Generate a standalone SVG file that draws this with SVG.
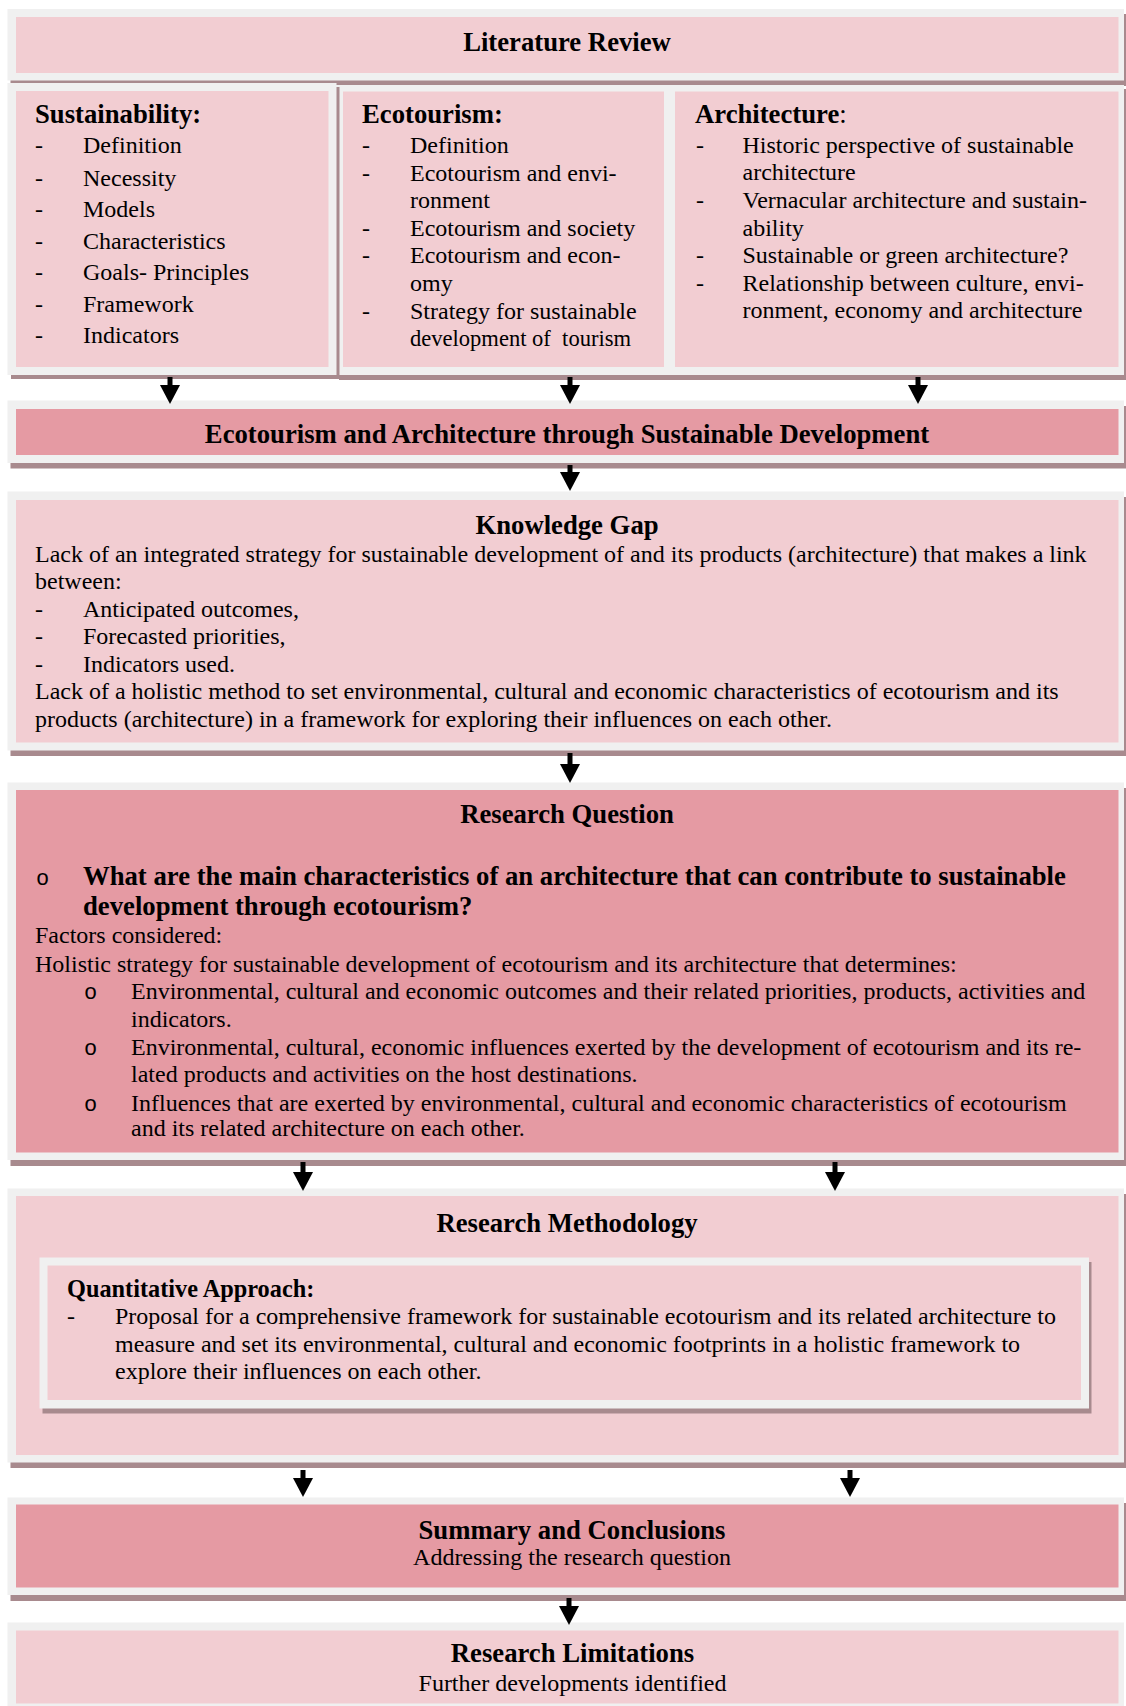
<svg xmlns="http://www.w3.org/2000/svg" width="1126" height="1706" viewBox="0 0 1126 1706">
  <style>
    text { font-family: "Liberation Serif", "Times New Roman", serif; fill: #000; }
    .h { font-size: 26.7px; font-weight: bold; }
    .hc { font-size: 26.7px; font-weight: bold; text-anchor: middle; }
    .b { font-size: 24px; }
    .bc { font-size: 24px; text-anchor: middle; }
    .q { font-size: 26.7px; font-weight: bold; }
    .bul { font-family: "Liberation Mono", "Courier New", monospace; font-size: 22px; }
    .frame { fill: #f0f0f0; }
    .shadow { fill: #a88a8e; }
    .light { fill: #f2cdd2; }
    .dark { fill: #e59aa3; }
    .conn line { stroke: #000; stroke-width: 5; }
  </style>
  <defs>
    <marker id="head" markerUnits="userSpaceOnUse" markerWidth="19" markerHeight="20" viewBox="0 0 19 20" refX="0" refY="10" orient="auto">
      <path d="M0,0 L19,10 L0,20 Z" fill="#000"/>
    </marker>
  </defs>

  <rect width="1126" height="1706" fill="#fff"/>

  <!-- Literature review header -->
  <g id="literature-review">
    <rect class="shadow" x="10.5" y="14" width="1118" height="72"/>
    <rect class="frame" x="7.5" y="9" width="1116.5" height="71.5"/>
    <rect class="light" x="16" y="17" width="1102.5" height="56"/>
    <text class="hc" x="567" y="51">Literature Review</text>
  </g>

  <!-- Ecotourism column -->
  <g id="ecotourism">
    <rect class="shadow" x="339" y="89" width="335" height="291"/>
    <rect class="frame" x="336" y="85" width="335" height="290"/>
    <rect class="light" x="343" y="91.5" width="321" height="275.5"/>
    <text class="h" x="362" y="123">Ecotourism:</text>
    <text class="b" x="362" y="153">-</text><text class="b" x="410" y="153">Definition</text>
    <text class="b" x="362" y="181">-</text><text class="b" x="410" y="181">Ecotourism and envi-</text>
    <text class="b" x="410" y="208">ronment</text>
    <text class="b" x="362" y="236">-</text><text class="b" x="410" y="236">Ecotourism and society</text>
    <text class="b" x="362" y="263">-</text><text class="b" x="410" y="263">Ecotourism and econ-</text>
    <text class="b" x="410" y="291">omy</text>
    <text class="b" x="362" y="318.5">-</text><text class="b" x="410" y="318.5">Strategy for sustainable</text>
    <text class="b" x="410" y="345.5" xml:space="preserve" textLength="221" lengthAdjust="spacingAndGlyphs">development of  tourism</text>
  </g>

  <!-- Architecture column -->
  <g id="architecture">
    <rect class="shadow" x="670" y="89" width="460" height="291"/>
    <rect class="frame" x="667" y="85" width="457" height="290"/>
    <rect class="light" x="675" y="91.5" width="443.5" height="275.5"/>
    <text class="h" x="695" y="123">Architecture<tspan style="font-weight:normal">:</tspan></text>
    <text class="b" x="696" y="153">-</text><text class="b" x="742.5" y="153">Historic perspective of sustainable</text>
    <text class="b" x="742.5" y="180">architecture</text>
    <text class="b" x="696" y="208">-</text><text class="b" x="742.5" y="208">Vernacular architecture and sustain-</text>
    <text class="b" x="742.5" y="236">ability</text>
    <text class="b" x="696" y="263">-</text><text class="b" x="742.5" y="263">Sustainable or green architecture?</text>
    <text class="b" x="696" y="291">-</text><text class="b" x="742.5" y="291">Relationship between culture, envi-</text>
    <text class="b" x="742.5" y="318">ronment, economy and architecture</text>
  </g>

  <!-- Sustainability column -->
  <g id="sustainability">
    <rect class="shadow" x="11" y="87" width="328.5" height="292"/>
    <rect class="frame" x="7.5" y="83" width="329" height="292"/>
    <rect class="light" x="16" y="91" width="312.5" height="276"/>
    <text class="h" x="35" y="123">Sustainability:</text>
    <text class="b" x="35" y="153">-</text><text class="b" x="83" y="153">Definition</text>
    <text class="b" x="35" y="185.5">-</text><text class="b" x="83" y="185.5">Necessity</text>
    <text class="b" x="35" y="217">-</text><text class="b" x="83" y="217">Models</text>
    <text class="b" x="35" y="248.5">-</text><text class="b" x="83" y="248.5">Characteristics</text>
    <text class="b" x="35" y="280">-</text><text class="b" x="83" y="280">Goals- Principles</text>
    <text class="b" x="35" y="311.5">-</text><text class="b" x="83" y="311.5">Framework</text>
    <text class="b" x="35" y="343">-</text><text class="b" x="83" y="343">Indicators</text>
  </g>

  <!-- Combined theme -->
  <g id="ecotourism-architecture">
    <rect class="shadow" x="10.5" y="406" width="1118" height="62.5"/>
    <rect class="frame" x="7.5" y="400.5" width="1116.5" height="62.5"/>
    <rect class="dark" x="16" y="409" width="1102.5" height="46"/>
    <text class="hc" x="567" y="443">Ecotourism and Architecture through Sustainable Development</text>
  </g>

  <!-- Knowledge gap -->
  <g id="knowledge-gap">
    <rect class="shadow" x="10.5" y="497" width="1118" height="259"/>
    <rect class="frame" x="7.5" y="491.5" width="1116.5" height="259"/>
    <rect class="light" x="16" y="500" width="1102.5" height="242.5"/>
    <text class="hc" x="567" y="534">Knowledge Gap</text>
    <text class="b" x="35" y="561.5">Lack of an integrated strategy for sustainable development of and its products (architecture) that makes a link</text>
    <text class="b" x="35" y="588.5">between:</text>
    <text class="b" x="35" y="617">-</text><text class="b" x="83" y="617">Anticipated outcomes,</text>
    <text class="b" x="35" y="644">-</text><text class="b" x="83" y="644">Forecasted priorities,</text>
    <text class="b" x="35" y="671.5">-</text><text class="b" x="83" y="671.5">Indicators used.</text>
    <text class="b" x="35" y="699">Lack of a holistic method to set environmental, cultural and economic characteristics of ecotourism and its</text>
    <text class="b" x="35" y="726.5">products (architecture) in a framework for exploring their influences on each other.</text>
  </g>

  <!-- Research question -->
  <g id="research-question">
    <rect class="shadow" x="10.5" y="788" width="1118" height="378"/>
    <rect class="frame" x="7.5" y="782.5" width="1116.5" height="377.5"/>
    <rect class="dark" x="16" y="790" width="1102.5" height="362.5"/>
    <text class="hc" x="567" y="823">Research Question</text>
    <text class="bul" x="36" y="885">o</text>
    <text class="q" x="83" y="885">What are the main characteristics of an architecture that can contribute to sustainable</text>
    <text class="q" x="83" y="915">development through ecotourism?</text>
    <text class="b" x="35" y="943">Factors considered:</text>
    <text class="b" x="35" y="971.5">Holistic strategy for sustainable development of ecotourism and its architecture that determines:</text>
    <text class="bul" x="84" y="999">o</text>
    <text class="b" x="131" y="999">Environmental, cultural and economic outcomes and their related priorities, products, activities and</text>
    <text class="b" x="131" y="1026.5">indicators.</text>
    <text class="bul" x="84" y="1055">o</text>
    <text class="b" x="131" y="1055">Environmental, cultural, economic influences exerted by the development of ecotourism and its re-</text>
    <text class="b" x="131" y="1081.5">lated products and activities on the host destinations.</text>
    <text class="bul" x="84" y="1110.5">o</text>
    <text class="b" x="131" y="1110.5">Influences that are exerted by environmental, cultural and economic characteristics of ecotourism</text>
    <text class="b" x="131" y="1136">and its related architecture on each other.</text>
  </g>

  <!-- Research methodology -->
  <g id="research-methodology">
    <rect class="shadow" x="10.5" y="1194" width="1118" height="274"/>
    <rect class="frame" x="7.5" y="1188.5" width="1116.5" height="274"/>
    <rect class="light" x="16" y="1196" width="1102.5" height="259"/>
    <text class="hc" x="567" y="1231.5">Research Methodology</text>
  </g>

  <!-- Quantitative approach -->
  <g id="quantitative-approach">
    <rect class="shadow" x="42.5" y="1262" width="1049" height="151.5"/>
    <rect class="frame" x="39.5" y="1257.5" width="1049.5" height="151"/>
    <rect class="light" x="47.5" y="1265.5" width="1033.5" height="134.5"/>
    <text class="h" x="67" y="1296.5" style="font-size:24.3px">Quantitative Approach:</text>
    <text class="b" x="67" y="1324">-</text>
    <text class="b" x="115" y="1324">Proposal for a comprehensive framework for sustainable ecotourism and its related architecture to</text>
    <text class="b" x="115" y="1351.5">measure and set its environmental, cultural and economic footprints in a holistic framework to</text>
    <text class="b" x="115" y="1379">explore their influences on each other.</text>
  </g>

  <!-- Summary and conclusions -->
  <g id="summary-conclusions">
    <rect class="shadow" x="10.5" y="1503" width="1118" height="98"/>
    <rect class="frame" x="7.5" y="1497.5" width="1116.5" height="97.5"/>
    <rect class="dark" x="16" y="1504.5" width="1102.5" height="83"/>
    <text class="hc" x="572" y="1538.5">Summary and Conclusions</text>
    <text class="bc" x="572" y="1565">Addressing the research question</text>
  </g>

  <!-- Research limitations -->
  <g id="research-limitations">
    <rect class="frame" x="7.5" y="1622.5" width="1116.5" height="90"/>
    <rect class="light" x="16" y="1630.5" width="1102.5" height="73"/>
    <text class="hc" x="572.5" y="1661.5">Research Limitations</text>
    <text class="bc" x="572.5" y="1690.5">Further developments identified</text>
  </g>

  <!-- Connectors -->
  <g id="connectors" class="conn">
    <line x1="170" y1="377" x2="170" y2="385" marker-end="url(#head)"/>
    <line x1="570" y1="377" x2="570" y2="385" marker-end="url(#head)"/>
    <line x1="918" y1="377" x2="918" y2="385" marker-end="url(#head)"/>
    <line x1="570" y1="465" x2="570" y2="472" marker-end="url(#head)"/>
    <line x1="570" y1="753" x2="570" y2="764" marker-end="url(#head)"/>
    <line x1="303" y1="1162" x2="303" y2="1172" marker-end="url(#head)"/>
    <line x1="835" y1="1162" x2="835" y2="1172" marker-end="url(#head)"/>
    <line x1="303" y1="1470" x2="303" y2="1478" marker-end="url(#head)"/>
    <line x1="850" y1="1470" x2="850" y2="1478" marker-end="url(#head)"/>
    <line x1="569" y1="1598" x2="569" y2="1606" marker-end="url(#head)"/>
  </g>
</svg>
